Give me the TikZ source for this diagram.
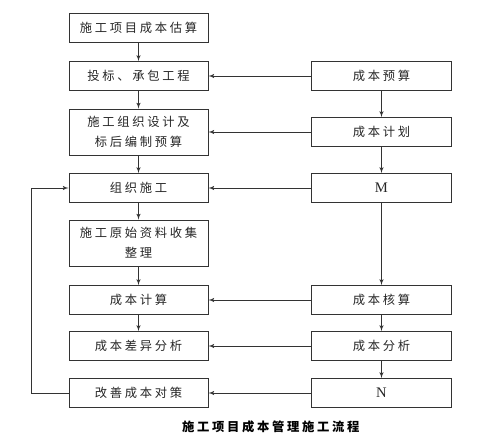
\documentclass[tikz,border=0pt]{standalone}
\usepackage{fontspec}
\setmainfont{Liberation Serif}
\newfontfamily\cjk{Noto Sans CJK SC}[LetterSpace=22]
\usepackage{tikz}
\usetikzlibrary{shapes,arrows,calc}
\tikzstyle{line} = [draw, black!80, line width=0.7pt, -latex']
\tikzstyle{block} = [draw, black!80, line width=0.8pt, rectangle, text centered, align=center, minimum width=4.17cm, minimum height=0.87cm, text=black!85, font=\cjk\fontsize{10.5}{17}\selectfont]
\tikzstyle{tallblock} = [block, minimum height=1.38cm]
\tikzstyle{rblock} = [block, minimum width=4.2cm]
\tikzstyle{caption} = [text=black, font=\cjk\bfseries\fontsize{10.5}{12}\selectfont]

\begin{document}
\begin{tikzpicture}[node distance = 1.45cm, auto]
        \useasboundingbox (-4.155,0.84) rectangle (10.875,-12.45);
        % left column
        \node[block] (estimate) {施工项目成本估算};
        \node[block, below of=estimate, node distance=1.44cm] (bid) {投标、承包工程};
        \node[tallblock, below of=bid, node distance=1.68cm] (design) {施工组织设计及\\标后编制预算};
        \node[block, below of=design, node distance=1.68cm] (build) {组织施工};
        \node[tallblock, below of=build, node distance=1.65cm] (data) {施工原始资料收集\\整理};
        \node[block, below of=data, node distance=1.71cm] (calc) {成本计算};
        \node[block, below of=calc, node distance=1.38cm] (diff) {成本差异分析};
        \node[block, below of=diff, node distance=1.41cm] (measure) {改善成本对策};
        % right column
        \node[rblock, right of=bid, node distance=7.29cm] (budget) {成本预算};
        \node[rblock, right of=design, node distance=7.29cm] (plan) {成本计划};
        \node[rblock, right of=build, node distance=7.29cm, font=\rmfamily\fontsize{12.5}{14}\selectfont] (m) {M};
        \node[rblock, right of=calc, node distance=7.29cm] (check) {成本核算};
        \node[rblock, right of=diff, node distance=7.29cm] (analysis) {成本分析};
        \node[rblock, right of=measure, node distance=7.29cm, font=\rmfamily\fontsize{12.5}{14}\selectfont] (n) {N};
        \coordinate (back) at ($(measure.west)+(-1.11cm,0)$);
        \node[caption] (title) at (3.97,-11.97) {施工项目成本管理施工流程};
        \path[line] (estimate) -- (bid);
        \path[line] (bid) -- (design);
        \path[line] (design) -- (build);
        \path[line] (build) -- (data);
        \path[line] (data) -- (calc);
        \path[line] (calc) -- (diff);
        \path[line] (budget) -- (plan);
        \path[line] (plan) -- (m);
        \path[line] (m) -- (check);
        \path[line] (check) -- (analysis);
        \path[line] (analysis) -- (n);
        \path[line] (budget) -- (bid);
        \path[line] (plan) -- (design);
        \path[line] (m) -- (build);
        \path[line] (check) -- (calc);
        \path[line] (analysis) -- (diff);
        \path[line] (n) -- (measure);
        \path[line] (measure.west) -- (back) |- (build.west);
    \end{tikzpicture}
\end{document}
